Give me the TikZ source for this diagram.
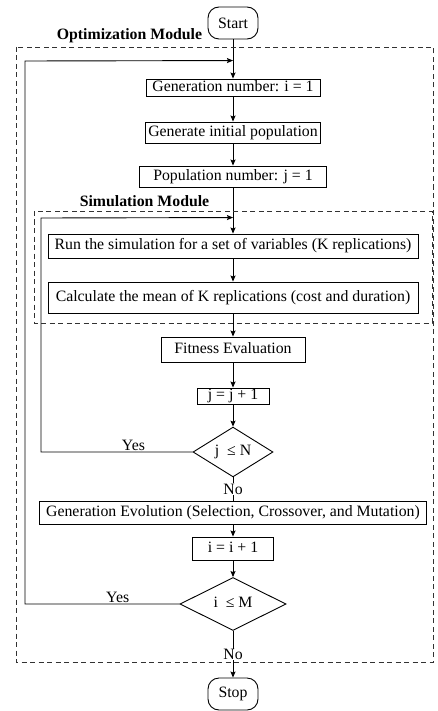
\documentclass[tikz,border=0pt]{standalone}
\usepackage{fontspec}
\setmainfont{Liberation Serif}
\usepackage{tikz}
\usetikzlibrary{arrows,arrows.meta,shapes,positioning}
\definecolor{fcdash}{RGB}{50,50,50}
\tikzstyle{arrow} = [line width=0.9pt,->,>={Stealth[length=6pt,width=5pt,inset=1pt]}]
\tikzstyle{link} = [line width=0.9pt]
\tikzstyle{process} = [rectangle, draw, line width=0.9pt, inner sep=1pt, text height=10.5pt, text depth=3pt, text centered]
\tikzstyle{decision} = [diamond, draw, line width=0.9pt, inner sep=0pt, text height=10.5pt, text depth=3pt]
\tikzstyle{terminal} = [rectangle, rounded corners=11pt, draw, line width=0.9pt, minimum width=50pt, minimum height=32pt]
\tikzstyle{module} = [draw=fcdash, line width=0.9pt, dash pattern=on 5pt off 3.5pt]
\tikzstyle{modlabel} = [font=\fontsize{15.8pt}{18pt}\selectfont\bfseries]

\begin{document}
\begin{tikzpicture}[font=\fontsize{15.8pt}{18pt}\selectfont]
\useasboundingbox (0,0) rectangle (437pt,-711pt);
% GA steps
\node (start) [terminal] at (233pt,-23pt) {Start};
\node (gen) [process, below of=start, node distance=64.5pt, minimum width=174pt, minimum height=17pt] {Generation number: i = 1};
\node (init) [process, below of=gen, node distance=45pt, minimum width=175pt, minimum height=21pt] {Generate initial population};
\node (pop) [process, below of=init, node distance=44pt, minimum width=187pt, minimum height=21pt] {Population number: j = 1};
\node (run) [process, below of=pop, node distance=69.5pt, minimum width=370pt, minimum height=24pt] {Run the simulation for a set of variables (K replications)};
\node (calc) [process, below of=run, node distance=51.5pt, minimum width=370pt, minimum height=31pt] {Calculate the mean of K replications (cost and duration)};
\node (fit) [process, below of=calc, node distance=52pt, minimum width=144pt, minimum height=25pt] {Fitness Evaluation};
\node (jinc) [process, below of=fit, node distance=46.5pt, minimum width=72pt, minimum height=16pt] {j = j + 1};
\node (jdec) [decision, below of=jinc, node distance=56pt, minimum width=80pt, minimum height=47pt] {j~~≤ N};
\node (evo) [process, below of=jdec, node distance=60.5pt, minimum width=387pt, minimum height=23pt] {Generation Evolution (Selection, Crossover, and Mutation)};
\node (iinc) [process, below of=evo, node distance=36pt, minimum width=81pt, minimum height=23pt] {i = i + 1};
\node (idec) [decision, below of=iinc, node distance=55.5pt, minimum width=106pt, minimum height=53pt] {i~~≤ M};
\node (stop) [terminal, below of=idec, node distance=90pt] {Stop};

% main flow
\draw[arrow] (start) -- (gen);
\draw[arrow] (gen) -- (init);
\draw[arrow] (init) -- (pop);
\draw[arrow] (pop) -- (run);
\draw[arrow] (run) -- (calc);
\draw[arrow] (calc) -- (fit);
\draw[arrow] (fit) -- (jinc);
\draw[arrow] (jinc) -- (jdec);
\draw[link] (jdec) -- node[fill=white, inner sep=0.5pt] {No} (evo);
\draw[arrow] (evo) -- (iinc);
\draw[arrow] (iinc) -- (idec);
\draw[arrow] (idec) -- node[fill=white, inner sep=0.5pt] {No} (stop);

% loops back
\coordinate (gloop) at ([yshift=18pt]gen.north);
\coordinate (jloop) at ([yshift=16pt]run.north);
\coordinate (gside) at (25pt,-61pt);
\coordinate (jside) at (41pt,-218pt);
\draw[arrow] (idec.west) -- node[above, pos=0.4, inner sep=1pt] {Yes} (idec.west -| gside) -- (gside) -- (gloop);
\draw[arrow] (jdec.west) -- node[above, pos=0.39, inner sep=1pt] {Yes} (jdec.west -| jside) -- (jside) -- (jloop);

% modules
\draw[module] (16pt,-47pt) rectangle (433pt,-662pt);
\draw[module] (34pt,-211pt) rectangle (432pt,-323pt);
\node (optlabel) [modlabel] at (129.5pt,-35.5pt) {Optimization Module};
\node (simlabel) [modlabel] at (144.5pt,-201.5pt) {Simulation Module};
\end{tikzpicture}
\end{document}
